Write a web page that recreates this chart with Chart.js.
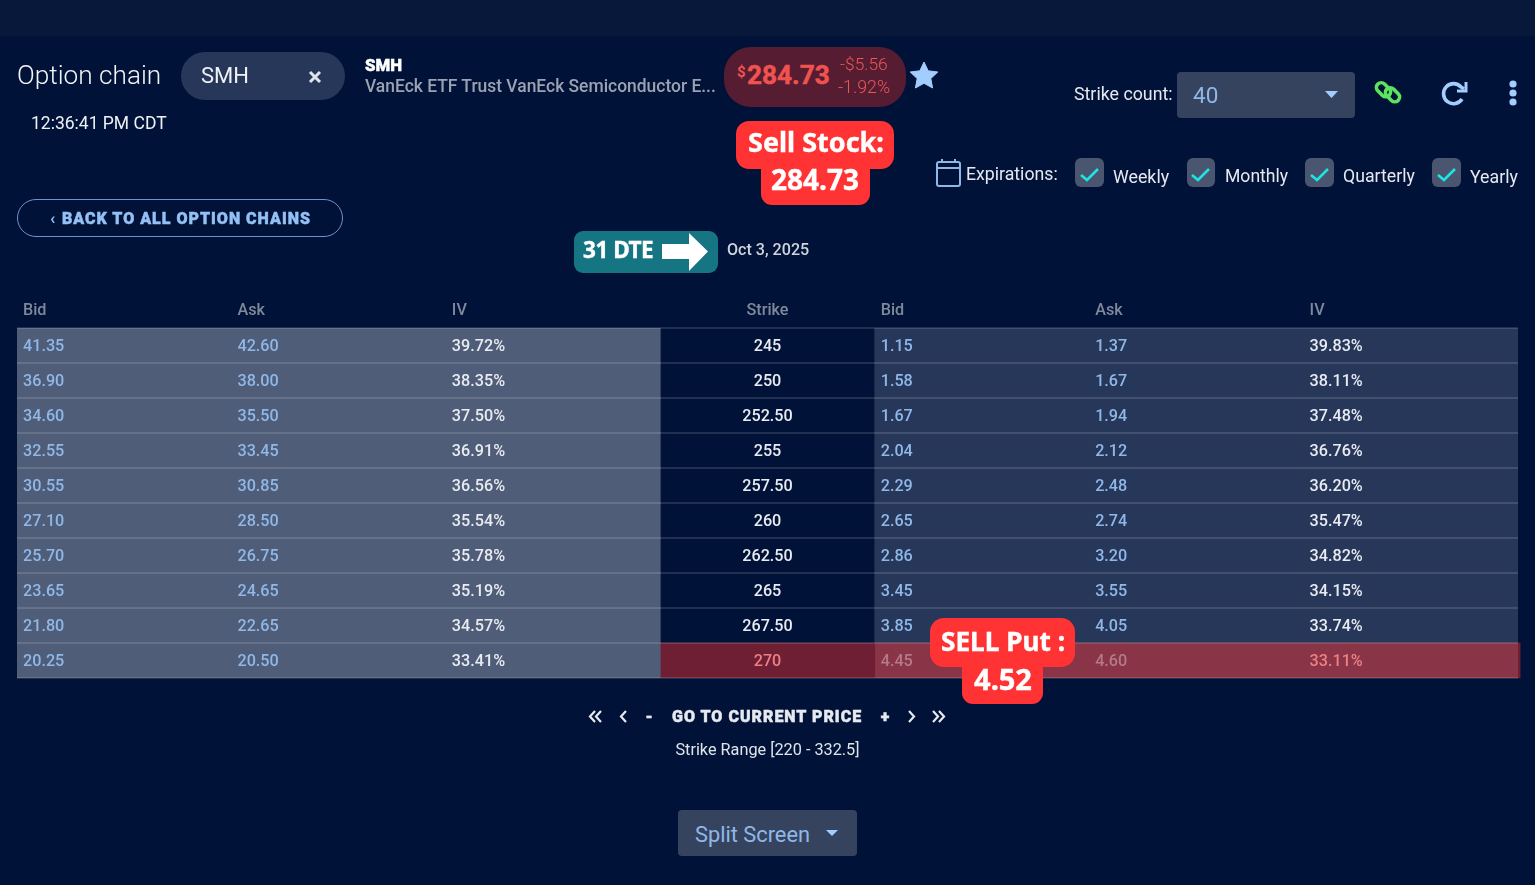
<!DOCTYPE html>
<html><head><meta charset="utf-8">
<script src="https://cdn.jsdelivr.net/npm/chart.js@4"></script>
<style>
html,body{margin:0;padding:0;background:#001237;width:1535px;height:885px;overflow:hidden;font-family:Roboto,sans-serif}
#top{position:absolute;left:0;top:0;width:1535px;height:36px;background:#07183b}
#wrap{position:absolute;left:0;top:0;width:1535px;height:885px}
.t{position:absolute;white-space:nowrap;line-height:1;transform:translateY(-50%)}
.c{transform:translate(-50%,-50%)}
.b{position:absolute}
.ann{font-family:"Noto Sans",sans-serif;font-weight:700;color:#fff;text-align:center;-webkit-text-stroke:.4px #fff}
.heavy{font-weight:900;-webkit-text-stroke:.45px currentColor}
svg{position:absolute;overflow:visible}
</style></head><body>
<div id="top"></div>
<div id="wrap"><canvas id="chart"></canvas></div>

<div class="t" style="left:17px;top:75px;font-size:26.2px;font-weight:300;color:#f2f4f7">Option chain</div>
<div class="b" style="left:181px;top:52px;width:164px;height:48px;border-radius:24px;background:#27375a"></div>
<div class="t" style="left:201px;top:75.5px;font-size:22px;color:#eef1f5">SMH</div>
<svg style="left:308px;top:70px" width="14" height="14"><path d="M2 2L12 12M12 2L2 12" stroke="#dfe3ea" stroke-width="3"/></svg>
<div class="t" style="left:31px;top:124px;font-size:17.5px;color:#eef1f5">12:36:41 PM CDT</div>
<div class="t heavy" style="left:365px;top:64.5px;font-size:16.8px;color:#fff">SMH</div>
<div class="t" style="left:365px;top:87px;font-size:17.45px;font-weight:500;color:#9ba3b2">VanEck ETF Trust VanEck Semiconductor E...</div>

<div class="b" style="left:724px;top:47px;width:182px;height:60px;border-radius:27px;background:#561c32"></div>
<div class="t" style="left:737px;top:72px;font-size:15px;font-weight:700;color:#ef5350">$</div>
<div class="t" style="left:747px;top:75px;font-size:26.2px;font-weight:700;-webkit-text-stroke:.5px #ef5350;color:#ef5350">284.73</div>
<div class="t" style="left:840px;top:65px;font-size:17.4px;font-weight:300;color:#e8575a">-$5.56</div>
<div class="t" style="left:838px;top:87px;font-size:17.8px;font-weight:300;color:#e8575a">-1.92%</div>
<svg style="left:909px;top:60px" width="30" height="30" viewBox="0 0 30 30"><path d="M15 2l4.2 8.8 9.6 1.2-7 6.6 1.8 9.4-8.6-4.7-8.6 4.7 1.8-9.4-7-6.6 9.6-1.2z" fill="#a4cdff" stroke="#a4cdff" stroke-linejoin="round" stroke-width="1"/></svg>

<div class="b" style="left:736px;top:121px;width:158px;height:48px;border-radius:13px;background:#ff3333"></div>
<div class="b" style="left:761px;top:160px;width:109px;height:45px;border-radius:11px;background:#ff3333"></div>
<div class="t c ann" style="left:816px;top:141px;font-size:27px">Sell Stock:</div>
<div class="t c ann" style="left:815px;top:179px;font-size:28px">284.73</div>

<div class="b" style="left:574px;top:231px;width:144px;height:42px;border-radius:9px;background:#157583"></div>
<div class="t ann" style="left:583px;top:250px;font-size:22.6px;letter-spacing:-.5px">31 DTE</div>
<svg style="left:661px;top:232px" width="50" height="40"><path d="M1 12H28V1L47 19.5L28 39V27H1z" fill="#fff"/></svg>
<div class="t" style="left:727px;top:250px;font-size:16.1px;font-weight:500;color:#ced3dc">Oct 3, 2025</div>

<div class="b" style="left:17px;top:199px;width:324px;height:36px;border:1.5px solid #6f93c8;border-radius:19px"></div>
<div class="t" style="left:50px;top:218px;font-size:17px;font-weight:700;color:#93c1f5">&#8249;</div>
<div class="t heavy" style="left:62px;top:219px;font-size:16px;letter-spacing:1px;color:#93c1f5">BACK TO ALL OPTION CHAINS</div>

<div class="t" style="left:1074px;top:94px;font-size:17.8px;color:#e6e9ef">Strike count:</div>
<div class="b" style="left:1177px;top:72px;width:178px;height:46px;border-radius:4px;background:#36435f"></div>
<div class="t" style="left:1193px;top:95px;font-size:22.5px;color:#8fb8e8">40</div>
<svg style="left:1325px;top:91px" width="13" height="7"><path d="M0 0H13L6.5 7z" fill="#a4cdff"/></svg>
<svg style="left:1374px;top:78px" width="28" height="28" viewBox="0 0 28 28" fill="none" stroke="#5ee35e" stroke-width="3.6"><rect x="1.5" y="7" width="16" height="9.5" rx="4.7" transform="rotate(45 9.5 11.75)"/><rect x="10.5" y="12" width="16" height="9.5" rx="4.7" transform="rotate(45 18.5 16.75)"/></svg>
<svg style="left:1440px;top:79px" width="28" height="28" viewBox="0 0 28 28" fill="none" stroke="#a4cdff" stroke-width="3.6"><path d="M22 20A10 10 0 1 1 21 8L24 10"/><path d="M26 3V12H17" stroke-width="3"/></svg>
<svg style="left:1508px;top:80px" width="10" height="26"><circle cx="5" cy="4" r="3.6" fill="#a4cdff"/><circle cx="5" cy="13" r="3.6" fill="#a4cdff"/><circle cx="5" cy="22" r="3.6" fill="#a4cdff"/></svg>

<svg style="left:936px;top:159px" width="26" height="28" viewBox="0 0 26 28" fill="none" stroke="#8fb8e8" stroke-width="2"><rect x="1" y="3" width="23" height="24" rx="2"/><path d="M1 9H24M6 0V4M19 0V4"/></svg>
<div class="t" style="left:966px;top:175px;font-size:17.7px;color:#e6e9ef">Expirations:</div>

<div class="b" style="left:1075px;top:158px;width:29px;height:29px;border-radius:6px;background:#4a5670"></div>
<svg style="left:1080px;top:167px" width="20" height="15"><path d="M1 8L7 13L18 2" fill="none" stroke="#1ce5e2" stroke-width="2.6"/></svg>
<div class="t" style="left:1113px;top:177px;font-size:17.8px;color:#e6e9ef">Weekly</div>
<div class="b" style="left:1187px;top:158px;width:28px;height:29px;border-radius:6px;background:#4a5670"></div>
<svg style="left:1191px;top:167px" width="20" height="15"><path d="M1 8L7 13L18 2" fill="none" stroke="#1ce5e2" stroke-width="2.6"/></svg>
<div class="t" style="left:1225px;top:177px;font-size:17.6px;color:#e6e9ef">Monthly</div>
<div class="b" style="left:1305px;top:158px;width:29px;height:29px;border-radius:6px;background:#4a5670"></div>
<svg style="left:1310px;top:167px" width="20" height="15"><path d="M1 8L7 13L18 2" fill="none" stroke="#1ce5e2" stroke-width="2.6"/></svg>
<div class="t" style="left:1343px;top:177px;font-size:17.7px;color:#e6e9ef">Quarterly</div>
<div class="b" style="left:1432px;top:158px;width:29px;height:29px;border-radius:6px;background:#4a5670"></div>
<svg style="left:1437px;top:167px" width="20" height="15"><path d="M1 8L7 13L18 2" fill="none" stroke="#1ce5e2" stroke-width="2.6"/></svg>
<div class="t" style="left:1470px;top:177px;font-size:17.8px;color:#e6e9ef">Yearly</div>

<div class="b" style="left:930px;top:618px;width:145px;height:49px;border-radius:14px;background:#ff3333"></div>
<div class="b" style="left:962px;top:655px;width:81px;height:49px;border-radius:11px;background:#ff3333"></div>
<div class="t c ann" style="left:1003px;top:641px;font-size:26.2px">SELL Put :</div>
<div class="t c ann" style="left:1003px;top:678px;font-size:29px">4.52</div>

<svg style="left:589px;top:710px" width="12" height="13" fill="none" stroke="#e6e9ef" stroke-width="2.2"><path d="M6 1L1 6.5L6 12M12 1L7 6.5L12 12"/></svg>
<svg style="left:620px;top:710px" width="7" height="13" fill="none" stroke="#e6e9ef" stroke-width="2.2"><path d="M6 1L1 6.5L6 12"/></svg>
<div class="t c heavy" style="left:649px;top:717px;font-size:16px;color:#e6e9ef">-</div>
<div class="t heavy" style="left:672px;top:717px;font-size:16px;letter-spacing:1px;color:#e6e9ef">GO TO CURRENT PRICE</div>
<div class="t c heavy" style="left:885px;top:717px;font-size:16px;color:#e6e9ef">+</div>
<svg style="left:908px;top:710px" width="7" height="13" fill="none" stroke="#e6e9ef" stroke-width="2.2"><path d="M1 1L6 6.5L1 12"/></svg>
<svg style="left:933px;top:710px" width="12" height="13" fill="none" stroke="#e6e9ef" stroke-width="2.2"><path d="M0 1L5 6.5L0 12M6 1L11 6.5L6 12"/></svg>
<div class="t c" style="left:767.5px;top:750px;font-size:16.25px;color:#dfe3ea">Strike Range [220 - 332.5]</div>

<div class="b" style="left:678px;top:810px;width:179px;height:46px;border-radius:4px;background:#36435f"></div>
<div class="t" style="left:695px;top:835px;font-size:21.8px;color:#8fb8e8">Split Screen</div>
<svg style="left:826px;top:830px" width="12" height="6"><path d="M0 0H12L6 6z" fill="#a4cdff"/></svg>

<script>
const strikes = ['245','250','252.50','255','257.50','260','262.50','265','267.50','270'];
const callBid = ['41.35','36.90','34.60','32.55','30.55','27.10','25.70','23.65','21.80','20.25'];
const callAsk = ['42.60','38.00','35.50','33.45','30.85','28.50','26.75','24.65','22.65','20.50'];
const callIV  = ['39.72%','38.35%','37.50%','36.91%','36.56%','35.54%','35.78%','35.19%','34.57%','33.41%'];
const putBid  = ['1.15','1.58','1.67','2.04','2.29','2.65','2.86','3.45','3.85','4.45'];
const putAsk  = ['1.37','1.67','1.94','2.12','2.48','2.74','3.20','3.55','4.05','4.60'];
const putIV   = ['39.83%','38.11%','37.48%','36.76%','36.20%','35.47%','34.82%','34.15%','33.74%','33.11%'];
const headers = ['Bid','Ask','IV','Strike','Bid','Ask','IV'];
const highlighted = '270';

const callSpan   = [3,3,3,3,3,3,3,3,3,3];
const strikeSpan = [1,1,1,1,1,1,1,1,1,1];
const putSpan    = [3,3,3,3,3,3,3,3,3,3];
const edgeSpan   = [0,0,0,0,0,0,0,0,0,0.01];

const isHi = i => strikes[i] === highlighted;

const cellText = {
  id:'cellText',
  afterDatasetsDraw(c){
    const {ctx,scales:{x,y}} = c;
    const pad = 6;
    ctx.save();
    ctx.textBaseline='middle';
    ctx.font='500 16.2px Roboto, sans-serif';
    const cols=[[0,callBid,'l'],[1,callAsk,'l'],[2,callIV,'l'],[3.5,strikes,'c'],[4,putBid,'l'],[5,putAsk,'l'],[6,putIV,'l']];
    cols.forEach(([pos,vals,al],k)=>{
      const px=x.getPixelForValue(pos);
      const tx= al==='c'?px:px+pad;
      ctx.textAlign= al==='c'?'center':'left';
      ctx.fillStyle='#7e899c';
      ctx.fillText(headers[k],tx,311);
      vals.forEach((v,i)=>{
        const py=y.getPixelForValue(i)+1;
        const bidAsk=[0,1,4,5].includes(k);
        let col = bidAsk ? '#8fb8e8' : '#e8ebf1';
        if(isHi(i)&&k>=3){
          col = k===3||k===6 ? '#ee7f85' : '#b57a88';
        }
        ctx.fillStyle=col;
        ctx.fillText(v,tx,py);
      });
    });
    ctx.restore();
  }
};

new Chart(document.getElementById('chart'),{
  type:'bar',
  data:{labels:strikes,datasets:[
    {label:'Calls',data:callSpan,backgroundColor:'#4f5d78'},
    {label:'Strike',data:strikeSpan,backgroundColor:strikes.map((s,i)=>isHi(i)?'#6f1f33':'rgba(0,0,0,0)')},
    {label:'Puts',data:putSpan,backgroundColor:strikes.map((s,i)=>isHi(i)?'#8a3447':'#27375a')},
    {label:'Edge',data:edgeSpan,backgroundColor:strikes.map((s,i)=>isHi(i)?'#6f1f33':'rgba(0,0,0,0)'),clip:false}
  ]},
  options:{
    indexAxis:'y',responsive:true,maintainAspectRatio:false,animation:false,
    layout:{padding:{left:17,right:17,top:328,bottom:207}},
    plugins:{legend:{display:false},tooltip:{enabled:false}},
    datasets:{bar:{barPercentage:1,categoryPercentage:1,borderWidth:0,stacked:true}},
    scales:{
      x:{type:'linear',stacked:true,min:0,max:7,display:false},
      y:{type:'category',stacked:true,offset:true,
        ticks:{display:false},border:{display:false},
        grid:{z:1,offset:true,drawTicks:false,lineWidth:2,
          color:ctx=>ctx.index===10?'rgba(0,0,0,0)':'rgba(255,255,255,0.13)'}}
    }
  },
  plugins:[cellText]
});
</script>
</body></html>
